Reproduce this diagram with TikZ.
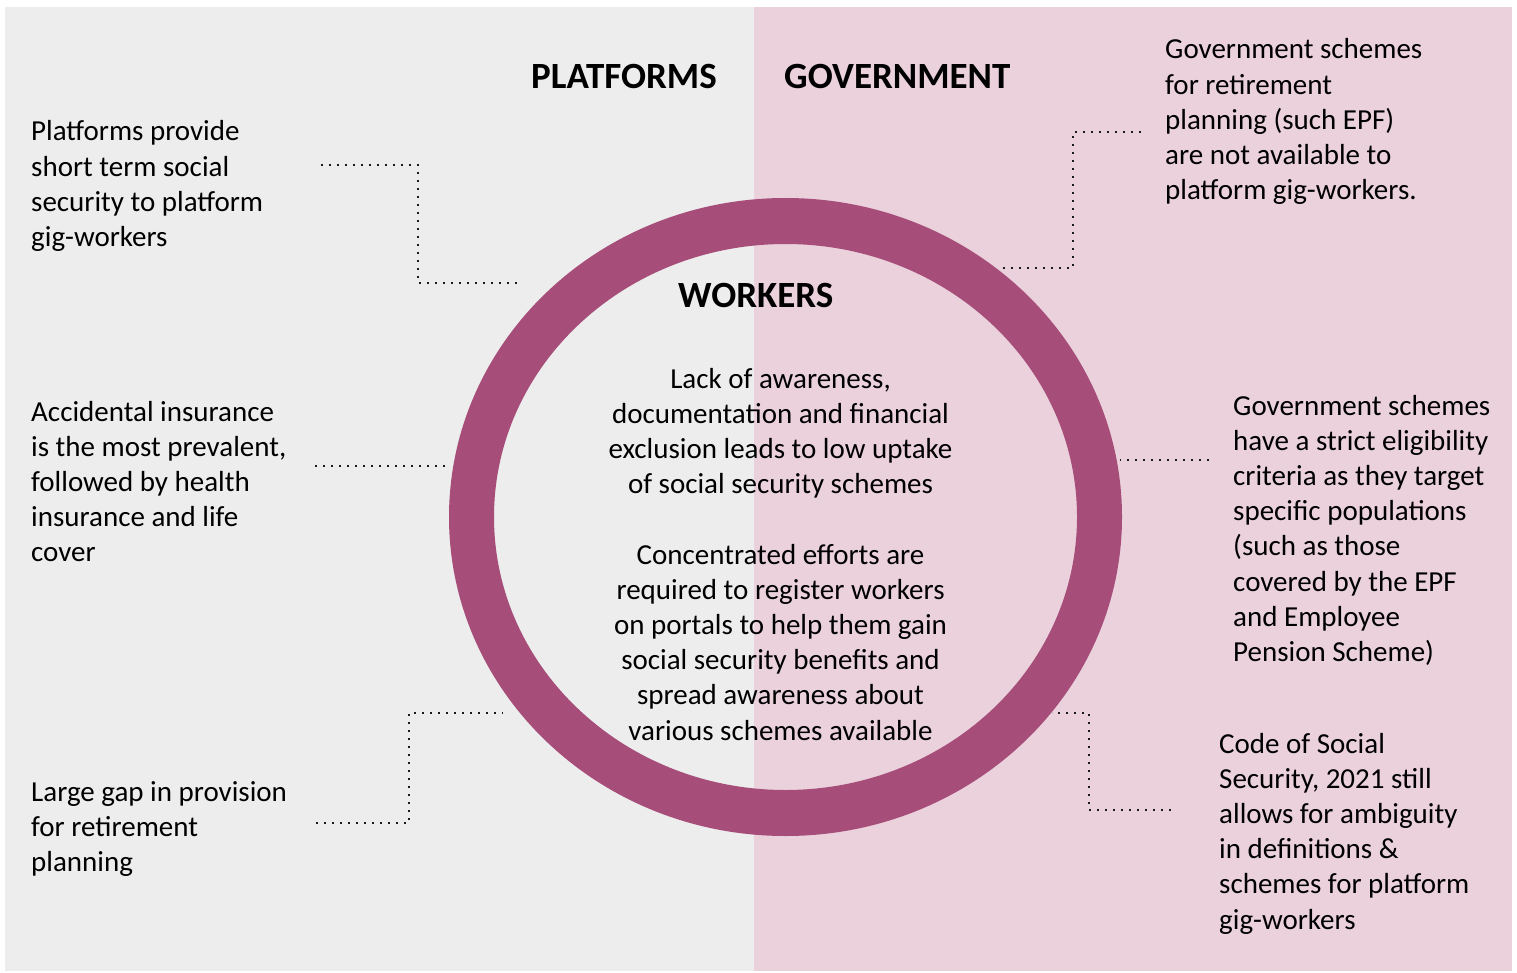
\documentclass[tikz,border=0pt]{standalone}
\usepackage{fontspec}
\setmainfont{Carlito}
\definecolor{bggray}{HTML}{EDEDED}
\definecolor{bgpink}{HTML}{EAD1DC}
\definecolor{ringc}{HTML}{A64D79}
\definecolor{dotc}{HTML}{1A1A1A}
\tikzset{
  txt/.style={anchor=base west, inner sep=0pt, align=left, font=\fontsize{29}{35.2}\selectfont},
  ctxt/.style={anchor=base, inner sep=0pt, align=center, font=\fontsize{29}{35.2}\selectfont},
  head/.style={anchor=base west, inner sep=0pt, font=\fontsize{37}{44}\selectfont\bfseries},
  dotline/.style={draw=dotc, line width=2pt, dash pattern=on 2pt off 6pt}
}
\begin{document}
\begin{tikzpicture}[x=1pt,y=-1pt]
\useasboundingbox (0,0) rectangle (1517,973);
\fill[bggray] (5,7) rectangle (754,971);
\fill[bgpink] (754,7) rectangle (1512,971);
% ring
\coordinate (c) at (785.5,517);
\fill[ringc, even odd rule] (c) ellipse [x radius=336.5pt, y radius=319pt]
                             (c) ellipse [x radius=291.5pt, y radius=273pt];
% headings
\node[head] (hplat) at (531,89) {PLATFORMS};
\node[head] (hgov) at (784,89) {GOVERNMENT};
\node[head] (hwork) at (678,307.5) {WORKERS};
% center text (base anchor = last line)
\node[ctxt] (center) at (780.5,740) {Lack of awareness,\\documentation and financial\\exclusion leads to low uptake\\of social security schemes\\[35.2pt]Concentrated efforts are\\required to register workers\\on portals to help them gain\\social security benefits and\\spread awareness about\\various schemes available};
% left texts
\node[txt] (l1) at (31,246.6) {Platforms provide\\short term social\\security to platform\\gig-workers};
\node[txt] (l2) at (31,561.8) {Accidental insurance\\is the most prevalent,\\followed by health\\insurance and life\\cover};
\node[txt] (l3) at (31,871.4) {Large gap in provision\\for retirement\\planning};
% right texts
\node[txt] (r1) at (1165,199.8) {Government schemes\\for retirement\\planning (such EPF)\\are not available to\\platform gig-workers.};
\node[txt] (r2) at (1233,661.4) {Government schemes\\have a strict eligibility\\criteria as they target\\specific populations\\(such as those\\covered by the EPF\\and Employee\\Pension Scheme)};
\node[txt] (r3) at (1219,929) {Code of Social\\Security, 2021 still\\allows for ambiguity\\in definitions \&\\schemes for platform\\gig-workers};
% connectors
\coordinate (a1) at (321,165); \coordinate (a2) at (418,165);
\coordinate (a3) at (418,283); \coordinate (a4) at (517,283);
\draw[dotline] (a1) -- (a2) -- (a3) -- (a4);
\coordinate (b1) at (1141,132); \coordinate (b2) at (1073,132);
\coordinate (b3) at (1073,268); \coordinate (b4) at (1003,268);
\draw[dotline] (b1) -- (b2) -- (b3) -- (b4);
\coordinate (m1) at (315,466); \coordinate (m2) at (446,466);
\draw[dotline] (m1) -- (m2);
\coordinate (n1) at (1209,460); \coordinate (n2) at (1120,460);
\draw[dotline] (n1) -- (n2);
\coordinate (d1) at (316,823); \coordinate (d2) at (409,823);
\coordinate (d3) at (409,713); \coordinate (d4) at (503,713);
\draw[dotline] (d1) -- (d2) -- (d3) -- (d4);
\coordinate (e1) at (1171,810); \coordinate (e2) at (1089,810);
\coordinate (e3) at (1089,713); \coordinate (e4) at (1052,713);
\draw[dotline] (e1) -- (e2) -- (e3) -- (e4);
\end{tikzpicture}
\end{document}
